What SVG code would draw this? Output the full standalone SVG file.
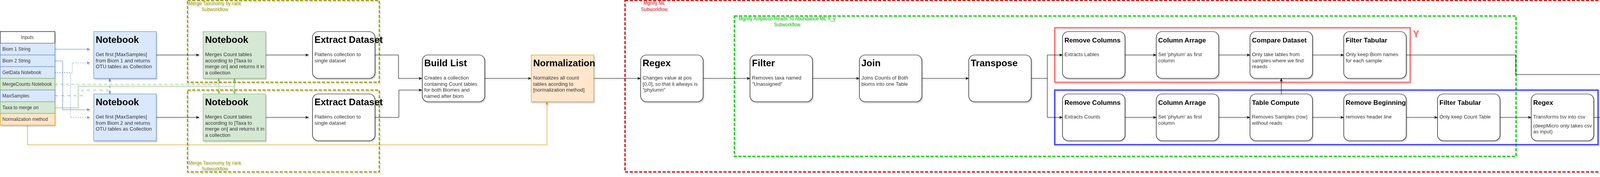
<svg xmlns="http://www.w3.org/2000/svg" width="4373" height="454" viewBox="0 0 4373 454">
<defs>
<style>
.t{font-family:"Liberation Sans",Arial,sans-serif;}
.title{font-family:"Liberation Sans",Arial,sans-serif;font-weight:bold;font-size:24px;fill:#000;}
.stitle{font-family:"Liberation Sans",Arial,sans-serif;font-weight:bold;font-size:17px;fill:#000;}
.body{font-family:"Liberation Sans",Arial,sans-serif;font-size:13px;fill:#333;}
.inp{font-family:"Liberation Sans",Arial,sans-serif;font-size:12px;fill:#333;}
.glab{font-family:"Liberation Sans",Arial,sans-serif;font-size:12px;text-anchor:middle;}
.box{fill:#fff;stroke:#000;stroke-width:1.2;}
.blue{fill:#dae8fc;stroke:#6c8ebf;stroke-width:1.2;}
.green{fill:#d5e8d4;stroke:#82b366;stroke-width:1.2;}
.orange{fill:#ffe6cc;stroke:#d79b00;stroke-width:1.2;}
.ln{fill:none;stroke:#000;stroke-width:1;}
.lb{fill:none;stroke:#6c8ebf;stroke-width:1;}
.lg{fill:none;stroke:#82b366;stroke-width:1;}
.lo{fill:none;stroke:#d79b00;stroke-width:1;}
.grp{fill:none;stroke-width:3;stroke-dasharray:8 4;}
</style>
<filter id="sh" x="-5%" y="-5%" width="115%" height="120%">
<feDropShadow dx="2" dy="3" stdDeviation="1.5" flood-color="#000" flood-opacity="0.22"/>
</filter>
<filter id="shu" filterUnits="userSpaceOnUse" x="0" y="0" width="4373" height="454">
<feDropShadow dx="2" dy="3" stdDeviation="1.2" flood-color="#000" flood-opacity="0.18"/>
</filter>
<marker id="ak" viewBox="0 0 10 10" refX="9.5" refY="5" markerWidth="10" markerHeight="10" markerUnits="userSpaceOnUse" orient="auto"><path d="M1,1.5 L10,5 L1,8.5 L3.5,5 z" fill="#000"/></marker>
<marker id="abl" viewBox="0 0 10 10" refX="9.5" refY="5" markerWidth="10" markerHeight="10" markerUnits="userSpaceOnUse" orient="auto"><path d="M1,1.5 L10,5 L1,8.5 L3.5,5 z" fill="#6c8ebf"/></marker>
<marker id="agr" viewBox="0 0 10 10" refX="9.5" refY="5" markerWidth="10" markerHeight="10" markerUnits="userSpaceOnUse" orient="auto"><path d="M1,1.5 L10,5 L1,8.5 L3.5,5 z" fill="#82b366"/></marker>
<marker id="aor" viewBox="0 0 10 10" refX="9.5" refY="5" markerWidth="10" markerHeight="10" markerUnits="userSpaceOnUse" orient="auto"><path d="M1,1.5 L10,5 L1,8.5 L3.5,5 z" fill="#d79b00"/></marker>
</defs>
<rect width="4373" height="454" fill="#fff"/>

<!-- group frames -->
<g id="groups" filter="url(#shu)">
<rect x="480" y="1" width="491" height="210" class="grp" stroke="#999900"/>
<text class="glab" fill="#999900" x="550" y="13">Merge Taxonomy by rank</text>
<text class="glab" fill="#999900" x="550" y="28">Subworkflow</text>
<rect x="480" y="231" width="491" height="210" class="grp" stroke="#999900"/>
<text class="glab" fill="#999900" x="550" y="422">Merge Taxonomy by rank</text>
<text class="glab" fill="#999900" x="550" y="437">Subworkflow</text>
<rect x="1600" y="1" width="2760" height="440" class="grp" stroke="#cc0000"/>
<text class="glab" fill="#e01b24" x="1675" y="12">Mgnify ML</text>
<text class="glab" fill="#e01b24" x="1675" y="28">Subworkflow</text>
<rect x="1880" y="41" width="2001" height="360" class="grp" stroke="#00cc00"/>
<text class="glab" fill="#00cc00" x="2015" y="52">Mgnify Amplicon Reads To Abundance ML X_y</text>
<text class="glab" fill="#00cc00" x="2015" y="67">Subworkflow</text>
<rect x="2700" y="71" width="910" height="140" fill="none" stroke="#ff6666" stroke-width="3"/>
<text x="3625" y="95" text-anchor="middle" class="t" font-size="24" font-weight="bold" fill="#ff6666">Y</text>
<rect x="2700" y="231" width="1391" height="140" fill="none" stroke="#3333ff" stroke-width="3"/>
<text x="4105" y="255" text-anchor="middle" class="t" font-size="24" font-weight="bold" fill="#3333ff">X</text>
</g>

<!-- connectors -->
<g id="connectors" filter="url(#shu)">
<path class="lb" d="M140,126 H230" marker-end="url(#abl)"/>
<path class="lb" d="M140,156 H160 V281 H230" marker-end="url(#abl)"/>
<path class="lb" d="M140,186 H185 V161 H230" stroke-dasharray="3 3" marker-end="url(#abl)"/>
<path class="lb" d="M140,186 H180 V301 H230" stroke-dasharray="3 3" marker-end="url(#abl)"/>
<path class="lb" d="M140,245 H210 V231 H281 V201" stroke-dasharray="8 8" marker-end="url(#abl)"/>
<path class="lb" d="M281,231 V241" marker-end="url(#abl)"/>
<path class="lg" d="M140,216 H560 V201" stroke-dasharray="8 6" marker-end="url(#agr)"/>
<path class="lg" d="M560,216 V241" stroke-dasharray="3 2" marker-end="url(#agr)"/>
<path class="lg" d="M140,276 H200 V221 H600 V201" marker-end="url(#agr)"/>
<path class="lg" d="M600,221 V241" marker-end="url(#agr)"/>
<path class="lo" d="M70,321 V371 H1400 V261" marker-end="url(#aor)"/>
<path class="ln" d="M400,141 H510" marker-end="url(#ak)"/>
<path class="ln" d="M400,301 H510" marker-end="url(#ak)"/>
<path class="ln" d="M680,141 H790" marker-end="url(#ak)"/>
<path class="ln" d="M680,301 H790" marker-end="url(#ak)"/>
<path class="ln" d="M960,141 H1020 V201 H1080" marker-end="url(#ak)"/>
<path class="ln" d="M960,301 H1021 V231 H1080" marker-end="url(#ak)"/>
<path class="ln" d="M1241,201 H1360" marker-end="url(#ak)"/>
<path class="ln" d="M1520,201 H1640" marker-end="url(#ak)"/>
<path class="ln" d="M1800,201 H1920" marker-end="url(#ak)"/>
<path class="ln" d="M2080,201 H2200" marker-end="url(#ak)"/>
<path class="ln" d="M2360,201 H2480" marker-end="url(#ak)"/>
<path class="ln" d="M2640,201 H2681 V141 H2720" marker-end="url(#ak)"/>
<path class="ln" d="M2681,201 V301 H2720" marker-end="url(#ak)"/>
<path class="ln" d="M2880,141 H2960" marker-end="url(#ak)"/>
<path class="ln" d="M3120,141 H3200" marker-end="url(#ak)"/>
<path class="ln" d="M3360,141 H3440" marker-end="url(#ak)"/>
<path class="ln" d="M2880,301 H2960" marker-end="url(#ak)"/>
<path class="ln" d="M3120,301 H3200" marker-end="url(#ak)"/>
<path class="ln" d="M3360,301 H3440" marker-end="url(#ak)"/>
<path class="ln" d="M3600,301 H3680" marker-end="url(#ak)"/>
<path class="ln" d="M3840,301 H3920" marker-end="url(#ak)"/>
<path class="ln" d="M3280,241 V201" marker-end="url(#ak)"/>
<path class="ln" d="M3600,141 H3880 V191 H4160" marker-end="url(#ak)"/>
<path class="ln" d="M4080,301 H4120 V241 H4160" marker-end="url(#ak)"/>
</g>

<!-- inputs table -->
<g id="inputs" filter="url(#sh)">
<rect x="0.5" y="81" width="140" height="30" fill="#fff" stroke="#000" stroke-width="1.2"/>
<text class="inp" x="70" y="100" text-anchor="middle">Inputs</text>
<rect x="0.5" y="111" width="140" height="30" class="blue"/>
<text class="inp" x="6" y="130">Biom 1 String</text>
<rect x="0.5" y="141" width="140" height="30" class="blue"/>
<text class="inp" x="6" y="160">Biom 2 String</text>
<rect x="0.5" y="171" width="140" height="30" class="blue"/>
<text class="inp" x="6" y="190">GetData Notebook</text>
<rect x="0.5" y="201" width="140" height="30" class="green"/>
<text class="inp" x="6" y="220">MergeCounts Notebook</text>
<rect x="0.5" y="231" width="140" height="30" class="blue"/>
<text class="inp" x="6" y="250">MaxSamples</text>
<rect x="0.5" y="261" width="140" height="30" class="green"/>
<text class="inp" x="6" y="280">Taxa to merge on</text>
<rect x="0.5" y="291" width="140" height="30" class="orange"/>
<text class="inp" x="6" y="310">Normalization method</text>
</g>

<g id="nb1" filter="url(#sh)">
<rect x="240" y="81" width="160" height="120" class="blue"/>
<text class="title" x="245" y="110">Notebook</text>
<text class="body" x="245" y="144">Get first [MaxSamples]</text>
<text class="body" x="245" y="159.6">from Biom 1 and returns</text>
<text class="body" x="245" y="175.2">OTU tables as Collection</text>
</g>
<g id="nb2" filter="url(#sh)">
<rect x="240" y="241" width="160" height="120" class="blue"/>
<text class="title" x="245" y="270">Notebook</text>
<text class="body" x="245" y="304">Get first [MaxSamples]</text>
<text class="body" x="245" y="319.6">from Biom 2 and returns</text>
<text class="body" x="245" y="335.2">OTU tables as Collection</text>
</g>
<g id="merge1" filter="url(#sh)">
<rect x="520" y="81" width="160" height="120" class="green"/>
<text class="title" x="525" y="110">Notebook</text>
<text class="body" x="525" y="144">Merges Count tables</text>
<text class="body" x="525" y="159.6">according to [Taxa to</text>
<text class="body" x="525" y="175.2">merge on] and returns it in</text>
<text class="body" x="525" y="190.8">a collection</text>
</g>
<g id="merge2" filter="url(#sh)">
<rect x="520" y="241" width="160" height="120" class="green"/>
<text class="title" x="525" y="270">Notebook</text>
<text class="body" x="525" y="304">Merges Count tables</text>
<text class="body" x="525" y="319.6">according to [Taxa to</text>
<text class="body" x="525" y="335.2">merge on] and returns it in</text>
<text class="body" x="525" y="350.8">a collection</text>
</g>
<g id="extract1" filter="url(#sh)">
<rect x="800" y="81" width="160" height="120" rx="15" class="box"/>
<text class="title" x="805" y="110">Extract Dataset</text>
<text class="body" x="805" y="144">Flattens collection to</text>
<text class="body" x="805" y="159.6">single dataset</text>
</g>
<g id="extract2" filter="url(#sh)">
<rect x="800" y="241" width="160" height="120" rx="15" class="box"/>
<text class="title" x="805" y="270">Extract Dataset</text>
<text class="body" x="805" y="304">Flattens collection to</text>
<text class="body" x="805" y="319.6">single dataset</text>
</g>
<g id="buildlist" filter="url(#sh)">
<rect x="1081" y="141" width="160" height="120" rx="15" class="box"/>
<text class="title" x="1086" y="170">Build List</text>
<text class="body" x="1086" y="204">Creates a collection</text>
<text class="body" x="1086" y="219.6">containing Count tables</text>
<text class="body" x="1086" y="235.2">for both Biomes and</text>
<text class="body" x="1086" y="250.8">named after biom</text>
</g>
<g id="normalization" filter="url(#sh)">
<rect x="1360" y="141" width="160" height="120" class="orange"/>
<text class="title" x="1365" y="170">Normalization</text>
<text class="body" x="1365" y="204">Normalizes all count</text>
<text class="body" x="1365" y="219.6">tables acording to</text>
<text class="body" x="1365" y="235.2">[normalization method]</text>
</g>
<g id="regex1" filter="url(#sh)">
<rect x="1640" y="141" width="160" height="120" rx="15" class="box"/>
<text class="title" x="1645" y="170">Regex</text>
<text class="body" x="1645" y="204">Changes value at pos</text>
<text class="body" x="1645" y="219.6">[0,0], so that it allways is</text>
<text class="body" x="1645" y="235.2">"phylumn"</text>
</g>
<g id="filter" filter="url(#sh)">
<rect x="1920" y="141" width="160" height="120" rx="15" class="box"/>
<text class="title" x="1925" y="170">Filter</text>
<text class="body" x="1925" y="204">Removes taxa named</text>
<text class="body" x="1925" y="219.6">"Unassigned"</text>
</g>
<g id="join" filter="url(#sh)">
<rect x="2200" y="141" width="160" height="120" rx="15" class="box"/>
<text class="title" x="2205" y="170">Join</text>
<text class="body" x="2205" y="204">Joins Counts of Both</text>
<text class="body" x="2205" y="219.6">bioms into one Table</text>
</g>
<g id="transpose" filter="url(#sh)">
<rect x="2480" y="141" width="160" height="120" rx="15" class="box"/>
<text class="title" x="2485" y="170">Transpose</text>
</g>
<g id="removecols1" filter="url(#sh)">
<rect x="2720" y="81" width="160" height="120" rx="15" class="box"/>
<text class="stitle" x="2725" y="109">Remove Columns</text>
<text class="body" x="2725" y="144">Extracts Lables</text>
</g>
<g id="colarr1" filter="url(#sh)">
<rect x="2960" y="81" width="160" height="120" rx="15" class="box"/>
<text class="stitle" x="2965" y="109">Column Arrage</text>
<text class="body" x="2965" y="144">Set 'phylum' as first</text>
<text class="body" x="2965" y="159.6">column</text>
</g>
<g id="compare" filter="url(#sh)">
<rect x="3200" y="81" width="160" height="120" rx="15" class="box"/>
<text class="stitle" x="3205" y="109">Compare Dataset</text>
<text class="body" x="3205" y="144">Only take lables from</text>
<text class="body" x="3205" y="159.6">samples where we find</text>
<text class="body" x="3205" y="175.2">reaeds</text>
</g>
<g id="filtertab1" filter="url(#sh)">
<rect x="3440" y="81" width="160" height="120" rx="15" class="box"/>
<text class="stitle" x="3445" y="109">Filter Tabular</text>
<text class="body" x="3445" y="144">Only keep Biom names</text>
<text class="body" x="3445" y="159.6">for each sample</text>
</g>
<g id="removecols2" filter="url(#sh)">
<rect x="2720" y="241" width="160" height="120" rx="15" class="box"/>
<text class="stitle" x="2725" y="269">Remove Columns</text>
<text class="body" x="2725" y="304">Extracts Counts</text>
</g>
<g id="colarr2" filter="url(#sh)">
<rect x="2960" y="241" width="160" height="120" rx="15" class="box"/>
<text class="stitle" x="2965" y="269">Column Arrage</text>
<text class="body" x="2965" y="304">Set 'phylum' as first</text>
<text class="body" x="2965" y="319.6">column</text>
</g>
<g id="tablecompute" filter="url(#sh)">
<rect x="3200" y="241" width="160" height="120" rx="15" class="box"/>
<text class="stitle" x="3205" y="269">Table Compute</text>
<text class="body" x="3205" y="304">Removes Samples (row)</text>
<text class="body" x="3205" y="319.6">without reads</text>
</g>
<g id="removebegin" filter="url(#sh)">
<rect x="3440" y="241" width="160" height="120" rx="15" class="box"/>
<text class="stitle" x="3445" y="269">Remove Beginning</text>
<text class="body" x="3445" y="304">removes header line</text>
</g>
<g id="filtertab2" filter="url(#sh)">
<rect x="3680" y="241" width="160" height="120" rx="15" class="box"/>
<text class="stitle" x="3685" y="269">Filter Tabular</text>
<text class="body" x="3685" y="304">Only keep Count Table</text>
</g>
<g id="regex2" filter="url(#sh)">
<rect x="3920" y="241" width="160" height="120" rx="15" class="box"/>
<text class="stitle" x="3925" y="269">Regex</text>
<text class="body" x="3925" y="304">Transforms tsv into csv</text>
<text class="body" x="3925" y="327">(deepMicro only takes csv</text>
<text class="body" x="3925" y="342">as input)</text>
</g>
<g id="deepmicro" filter="url(#sh)">
<rect x="4160" y="161" width="160" height="120" rx="15" class="box"/>
<text class="stitle" x="4165" y="189">DeepMicro</text>
<text class="body" x="4165" y="224">Returns scores for</text>
<text class="body" x="4165" y="239.6">different Encodings and</text>
<text class="body" x="4165" y="255.2">classifiers</text>
</g>
</svg>
